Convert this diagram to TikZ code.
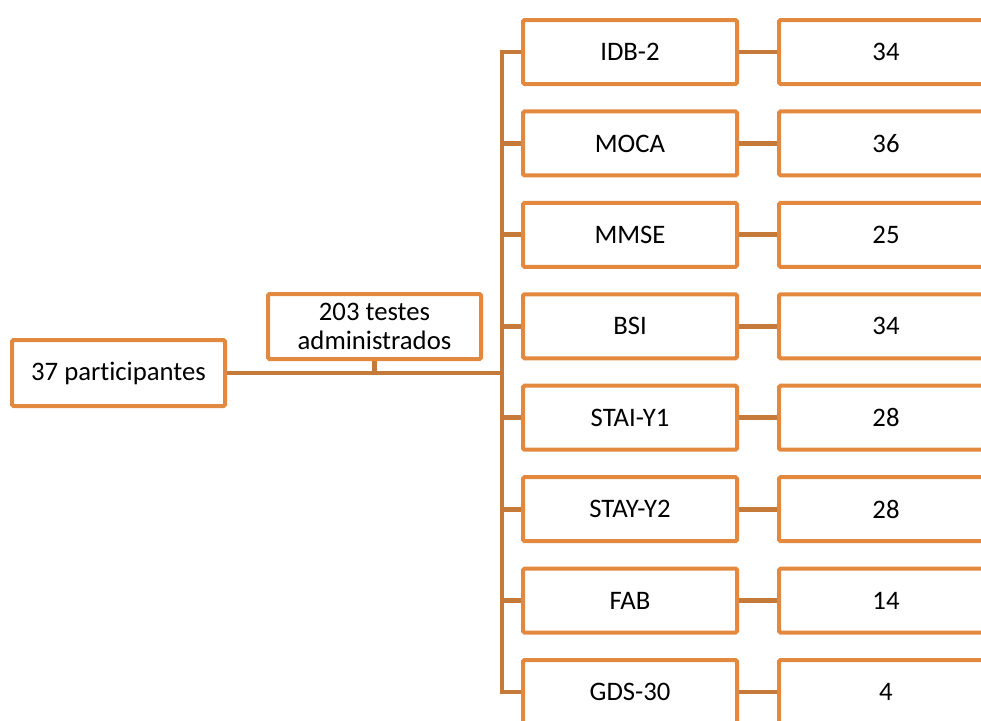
\documentclass[tikz,border=0pt]{standalone}
\usepackage{fontspec}
\setmainfont{Carlito}[Ligatures=NoCommon]
\usetikzlibrary{backgrounds}
\definecolor{boxc}{HTML}{E3893F}
\definecolor{linec}{HTML}{C67A3A}
\tikzset{
  box/.style={draw=boxc, line width=4pt, fill=white, rounded corners=1.5pt,
    minimum width=213pt, minimum height=64pt, inner sep=0pt, align=center,
    text=black, font=\fontsize{26.7}{28.5}\selectfont},
  conn/.style={draw=linec, line width=4.8pt}
}
\begin{document}
\begin{tikzpicture}[x=1pt,y=-1pt]
\useasboundingbox (0,0) rectangle (981,720);
\clip (0,0) rectangle (981,720);
\node[box, minimum height=66pt] (part) at (118.5,373) {37 participantes};
\node[box, minimum height=65pt] (test) at (374.5,326.5) {203 testes\\administrados};
\foreach \lab/\num [count=\i] in {IDB-2/34, MOCA/36, MMSE/25, BSI/34, STAI-Y1/28, STAY-Y2/28, FAB/14, GDS-30/4}{
  \node[box, minimum width=214pt] (t\i) at (630,{52+91.43*(\i-1)}) {\lab};
  \node[box, minimum width=214pt] (n\i) at (886,{52+91.43*(\i-1)}) {\num};
}
\coordinate (vtop) at (502,52);
\coordinate (vbot) at (502,692);
\begin{scope}[on background layer]
  \draw[conn, line cap=rect] (vtop) -- (vbot);
  \draw[conn] (part.east) -- (vtop |- part.east);
  \draw[conn] (test.south) -- (test.south |- part.east);
  \foreach \i in {1,...,8}{
    \draw[conn] (vtop |- t\i.west) -- (t\i.west);
    \draw[conn] (t\i.east) -- (n\i.west);
  }
\end{scope}
\end{tikzpicture}
\end{document}
